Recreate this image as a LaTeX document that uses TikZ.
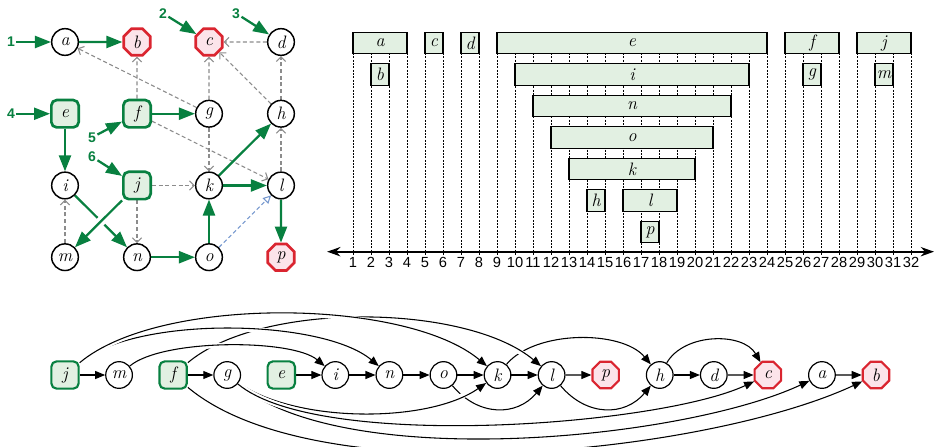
\documentclass[tikz,border=0pt]{standalone}
\usepackage{fontspec}
\setsansfont{Liberation Sans}
\usetikzlibrary{arrows.meta,positioning,shapes.geometric}
\definecolor{dgreen}{RGB}{8,128,64}
\definecolor{lgreen}{RGB}{226,240,226}
\definecolor{dred}{RGB}{218,37,48}
\definecolor{lred}{RGB}{252,228,234}
\definecolor{dgray}{RGB}{140,140,140}
\definecolor{lblue}{RGB}{118,152,206}
\pgfdeclarelayer{edgelayer}
\pgfsetlayers{edgelayer,main}
\tikzset{
  letter/.style={font=\fontsize{13.5}{15}\selectfont\itshape},
  plain/.style={circle,draw,line width=1.1pt,fill=white,minimum size=20pt,inner sep=0pt,letter},
  source/.style={rectangle,rounded corners=4pt,draw=dgreen,line width=2pt,fill=lgreen,minimum size=20.5pt,inner sep=0pt,letter},
  sink/.style={regular polygon,regular polygon sides=8,draw=dred,line width=2pt,fill=lred,minimum size=21.5pt,inner sep=0pt,letter},
  bplain/.style={plain,line width=0.9pt},
  bsource/.style={source,line width=1.6pt},
  bsink/.style={sink,line width=1.6pt},
  entry/.style={text=dgreen,font=\sffamily\bfseries\fontsize{10.5}{12}\selectfont,inner sep=1pt},
  tree/.style={color=dgreen,line width=1.7pt,-{Triangle[length=12pt,width=9pt]}},
  back/.style={color=dgray,line width=0.8pt,dash pattern=on 3pt off 2pt,-{Straight Barb[length=3.5pt,width=7pt]}},
  cross/.style={color=lblue,line width=0.8pt,dash pattern=on 3pt off 2pt,-{Triangle[open,length=6pt,width=6pt]}},
  bar/.style={draw,line width=0.9pt,fill=lgreen,minimum height=16pt,inner sep=0pt,letter},
  tickline/.style={line width=0.5pt,dash pattern=on 1.5pt off 1pt},
  ticklab/.style={font=\sffamily\fontsize{11}{13}\selectfont,inner sep=0pt,anchor=north},
  axisline/.style={line width=1.5pt,{Stealth[length=10pt,width=7pt]}-{Stealth[length=10pt,width=7pt]}},
  link/.style={line width=0.8pt,-{Triangle[length=7.5pt,width=6pt]}},
  gap/.style={preaction={draw=white,line width=#1,-}},
  gap/.default=4pt
}
\begin{document}
\begin{tikzpicture}[x=0.75pt,y=0.75pt]
\useasboundingbox (0,0) rectangle (934,-446);

% the graph with its search tree
\begin{scope}[shift={(65,-42)},x=54pt,y=53.8pt]
\node[plain] (a) at (0,0) {a};
\node[sink] (b) at (1,0) {b};
\node[sink] (c) at (2,0) {c};
\node[plain] (d) at (3,0) {d};
\node[source] (e) at (0,-1) {e};
\node[source] (f) at (1,-1) {f};
\node[plain] (g) at (2,-1) {g};
\node[plain] (h) at (3,-1) {h};
\node[plain] (i) at (0,-2) {i};
\node[source] (j) at (1,-2) {j};
\node[plain] (k) at (2,-2) {k};
\node[plain] (l) at (3,-2) {l};
\node[plain] (m) at (0,-3) {m};
\node[plain] (n) at (1,-3) {n};
\node[plain] (o) at (2,-3) {o};
\node[sink] (p) at (3,-3) {p};
\node[entry] (s1) at (-0.75,0) {1};
\node[entry] (s2) at (1.36,0.4) {2};
\node[entry] (s3) at (2.375,0.4) {3};
\node[entry] (s4) at (-0.75,-1) {4};
\node[entry] (s5) at (0.375,-1.33) {5};
\node[entry] (s6) at (0.375,-1.6) {6};
\end{scope}

\begin{pgfonlayer}{edgelayer}
\path[back]
(d) edge (c)
(h) edge (c)
(g) edge (c)
(g) edge (a)
(f) edge (b)
(h) edge (d)
(f) edge (l)
(g) edge (k)
(j) edge (k)
(j) edge (n)
(m) edge (i)
(l) edge (h);
\draw[cross] (o) -- (l);
\path[tree]
(s1) edge (a)
(s2) edge (c)
(s3) edge (d)
(s4) edge (e)
(s5) edge (f)
(s6) edge (j)
(a) edge (b)
(f) edge (g)
(e) edge (i)
(i) edge (n)
(n) edge (o)
(o) edge (k)
(k) edge (l)
(k) edge (h)
(l) edge (p)
(j) edge[gap=7pt] (m);
\end{pgfonlayer}

% intervals on the time line
\begin{scope}[shift={(335,-43)},x=13.5pt,y=23.625pt]
\foreach \t in {1,...,32}{
  \draw[tickline] (\t,0) -- (\t,-6.75);
  \node[ticklab] (tick\t) at (\t,-6.8) {\t};
}
\coordinate (axl) at (-0.44,-6.625);
\coordinate (axr) at (33.28,-6.625);
\draw[axisline] (axl) -- (axr);
\foreach \v/\s/\e/\r in {a/1/4/0,b/2/3/1,c/5/6/0,d/7/8/0,e/9/24/0,i/10/23/1,n/11/22/2,o/12/21/3,k/13/20/4,h/14/15/5,l/16/19/5,p/17/18/6,f/25/28/0,g/26/27/1,j/29/32/0,m/30/31/1}
  \node[bar,minimum width={(\e-\s)*13.5pt}] (bar-\v) at ({(\s+\e)/2},-\r) {\v};
\end{scope}

% topological order
\begin{scope}[shift={(65,-375)},x=40.55pt]
\node[bsource] (tj) at (0,0) {j};
\node[bplain] (tm) at (1,0) {m};
\node[bsource] (tf) at (2,0) {f};
\node[bplain] (tg) at (3,0) {g};
\node[bsource] (te) at (4,0) {e};
\node[bplain] (ti) at (5,0) {i};
\node[bplain] (tn) at (6,0) {n};
\node[bplain] (to) at (7,0) {o};
\node[bplain] (tk) at (8,0) {k};
\node[bplain] (tl) at (9,0) {l};
\node[bsink] (tp) at (10,0) {p};
\node[bplain] (th) at (11,0) {h};
\node[bplain] (td) at (12,0) {d};
\node[bsink] (tc) at (13,0) {c};
\node[bplain] (ta) at (14,0) {a};
\node[bsink] (tb) at (15,0) {b};
\end{scope}

\begin{pgfonlayer}{edgelayer}
\path[link]
(tj) edge (tm)
(tf) edge (tg)
(te) edge (ti)
(ti) edge (tn)
(tn) edge (to)
(to) edge (tk)
(tk) edge (tl)
(tl) edge (tp)
(th) edge (td)
(td) edge (tc)
(ta) edge (tb)
(tk) edge[gap,out=50,in=130,looseness=0.8] (th)
(tf) edge[gap,out=40,in=140,looseness=0.7] (tl)
(tm) edge[gap,out=40,in=140,looseness=0.56] (ti)
(tj) edge[gap,out=40,in=140,looseness=0.63] (tn)
(tj) edge[gap,out=40,in=140,looseness=0.66] (tk)
(th) edge[gap,out=60,in=120,looseness=0.95] (tc)
(to) edge[gap,out=-50,in=-130,looseness=1.15] (tl)
(tl) edge[gap,out=-50,in=-130,looseness=1.15] (th)
(tg) edge[gap,out=-35,in=-145,looseness=0.73] (tk)
(tf) edge[gap,out=-40,in=-155,looseness=0.64] (tb)
(tg) edge[gap,out=-40,in=-155,looseness=0.62] (ta)
(tg) edge[gap,out=-40,in=-155,looseness=0.52] (tc);
\end{pgfonlayer}
\end{tikzpicture}
\end{document}
